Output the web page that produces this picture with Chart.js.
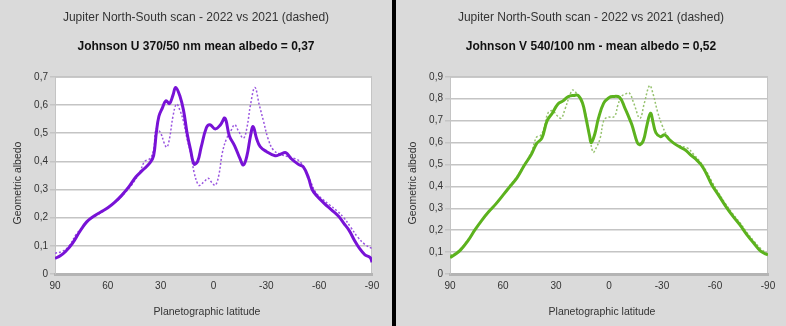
<!DOCTYPE html>
<html lang="en">
<head>
  <meta charset="UTF-8">
  <title>Jupiter North-South scan</title>
  <script src="https://cdn.jsdelivr.net/npm/chart.js"></script>
  <style>
    body {
      margin: 0;
      width: 786px;
      height: 326px;
      background: #dadada;
      position: relative;
      overflow: hidden;
      font-family: "Liberation Sans", Arial, sans-serif;
    }
    #divider {
      position: absolute;
      left: 392px;
      top: 0;
      width: 4px;
      height: 326px;
      background: #000;
    }
    #leftChart { position: absolute; left: 0; top: 0; }
    #rightChart { position: absolute; left: 396px; top: 0; }
  </style>
</head>
<body>
  <canvas id="leftChart" width="392" height="326"></canvas>
  <div id="divider"></div>
  <canvas id="rightChart" width="390" height="326"></canvas>

  <script>
    // tick labels
    const latTicks = [90, 60, 30, 0, -30, -60, -90];

    // Johnson U, 2022 (solid)
    const latU22 = [90, 87, 84, 80, 76, 72, 68, 64, 60, 56, 52, 48, 44, 40, 36, 34, 32.5, 31, 29, 27, 25, 23, 21.5, 19, 17, 15, 13, 11, 9, 7, 4, 2, -1, -4, -6.5, -9, -12, -15, -17, -19, -21, -22.5, -24.5, -26.5, -30, -35, -38, -41, -44, -48, -51, -54, -56, -59, -63, -67, -71, -74, -77, -80, -83, -86, -89, -90];
    const albU22 = [0.055, 0.065, 0.08, 0.11, 0.15, 0.185, 0.205, 0.22, 0.235, 0.255, 0.28, 0.31, 0.345, 0.37, 0.395, 0.42, 0.5, 0.56, 0.59, 0.615, 0.605, 0.635, 0.662, 0.63, 0.58, 0.5, 0.44, 0.39, 0.4, 0.45, 0.52, 0.53, 0.515, 0.53, 0.553, 0.49, 0.455, 0.41, 0.387, 0.42, 0.49, 0.523, 0.48, 0.452, 0.435, 0.42, 0.425, 0.431, 0.41, 0.39, 0.38, 0.34, 0.3, 0.275, 0.25, 0.228, 0.205, 0.18, 0.155, 0.12, 0.09, 0.068, 0.058, 0.042];

    // Johnson U, 2021 (dashed)
    const latU21 = [90, 86, 82, 78, 74, 70, 66, 62, 58, 54, 50, 46, 42, 39, 36, 34, 32.5, 30, 28, 26.5, 25, 23, 21, 19, 17, 15, 13, 11, 9, 8, 5, 3, 1, -1, -3, -5, -7.5, -10, -12, -14, -17, -19, -21, -23.5, -26, -28.5, -31, -34, -38, -42, -46, -49, -52, -55, -58, -62, -66, -70, -74, -78, -82, -86, -90];
    const albU21 = [0.074, 0.08, 0.1, 0.14, 0.17, 0.195, 0.21, 0.225, 0.245, 0.265, 0.29, 0.32, 0.36, 0.4, 0.41, 0.44, 0.515, 0.5, 0.465, 0.45, 0.48, 0.56, 0.603, 0.58, 0.54, 0.48, 0.43, 0.36, 0.32, 0.314, 0.33, 0.34, 0.325, 0.315, 0.35, 0.43, 0.482, 0.51, 0.53, 0.51, 0.482, 0.52, 0.6, 0.662, 0.6, 0.54, 0.48, 0.44, 0.425, 0.417, 0.41, 0.4, 0.37, 0.33, 0.29, 0.265, 0.245, 0.225, 0.2, 0.165, 0.13, 0.105, 0.09];

    // Johnson V, 2022 (solid)
    const latV22 = [90, 87, 84, 80, 76, 72, 68, 64, 60, 56, 52, 48, 44, 41, 38, 35, 32, 29, 26, 23, 20, 17.5, 15, 13, 11, 10, 8, 6, 3, 0, -2, -6, -9, -11, -13, -16, -17.5, -19.5, -21.5, -23.5, -25, -26.5, -29, -31.5, -34, -37, -40, -43, -46, -49, -52, -55, -58, -62, -66, -70, -74, -78, -82, -86, -90];
    const albV22 = [0.075, 0.09, 0.11, 0.15, 0.2, 0.245, 0.285, 0.32, 0.36, 0.4, 0.44, 0.495, 0.545, 0.595, 0.62, 0.7, 0.735, 0.775, 0.79, 0.81, 0.815, 0.815, 0.78, 0.71, 0.63, 0.6, 0.64, 0.71, 0.78, 0.805, 0.81, 0.806, 0.757, 0.72, 0.68, 0.6, 0.59, 0.61, 0.68, 0.734, 0.69, 0.645, 0.627, 0.635, 0.615, 0.595, 0.58, 0.567, 0.545, 0.525, 0.5, 0.46, 0.41, 0.36, 0.31, 0.265, 0.225, 0.18, 0.14, 0.103, 0.087];

    // Johnson V, 2021 (dashed)
    const latV21 = [90, 87, 84, 80, 76, 72, 68, 64, 60, 56, 52, 48, 44, 41, 39, 37, 34.5, 32, 29, 27, 25, 22, 20.5, 18, 15.5, 13, 11, 9, 7, 5, 3, 1, -3, -5, -7, -9, -11.5, -14, -17.5, -20, -23, -25, -27.5, -30, -33, -36, -40, -44.5, -48, -51.5, -55, -58, -62, -66, -70, -74, -78, -82, -86, -90];
    const albV21 = [0.085, 0.095, 0.115, 0.155, 0.2, 0.245, 0.285, 0.32, 0.36, 0.405, 0.445, 0.5, 0.555, 0.625, 0.63, 0.66, 0.735, 0.745, 0.72, 0.711, 0.75, 0.82, 0.84, 0.82, 0.79, 0.72, 0.635, 0.556, 0.58, 0.62, 0.7, 0.715, 0.719, 0.77, 0.81, 0.82, 0.826, 0.78, 0.711, 0.78, 0.86, 0.82, 0.74, 0.68, 0.63, 0.6, 0.585, 0.574, 0.545, 0.513, 0.47, 0.425, 0.37, 0.32, 0.275, 0.235, 0.19, 0.15, 0.115, 0.09];

    const pts = (xs, ys) => xs.map((x, i) => ({ x: x, y: ys[i] }));

    // white plot area with thin grey frame
    const plotBg = {
      id: 'plotBg',
      beforeDraw(chart) {
        const a = chart.chartArea;
        const ctx = chart.ctx;
        ctx.save();
        ctx.fillStyle = '#ffffff';
        ctx.fillRect(a.left, a.top, a.right - a.left, a.bottom - a.top);
        ctx.strokeStyle = '#c4c4c4';
        ctx.lineWidth = 1;
        ctx.strokeRect(a.left + 0.5, a.top + 0.5, a.right - a.left - 1, a.bottom - a.top - 1);
        ctx.restore();
      }
    };

    // axis titles, placed like the original (slightly off the plot centre)
    const axisTitles = {
      id: 'axisTitles',
      afterDraw(chart, args, opts) {
        const ctx = chart.ctx;
        ctx.save();
        ctx.fillStyle = '#333';
        ctx.font = '10.5px "Liberation Sans"';
        ctx.textAlign = 'center';
        ctx.textBaseline = 'middle';
        ctx.fillText('Planetographic latitude', opts.xTitleX, 312);
        ctx.translate(opts.yTitleX, 183);
        ctx.rotate(-Math.PI / 2);
        ctx.fillText('Geometric albedo', 0, 0);
        ctx.restore();
      }
    };

    function makeChart(id, subtitle, yMax, solid, dashed, solidColor, dashColor, leftW, rightW, xTitleX, yTitleX) {
      return new Chart(document.getElementById(id), {
        type: 'line',
        data: {
          datasets: [
            {
              data: solid,
              borderColor: solidColor,
              borderWidth: 3,
              pointRadius: 0,
              tension: 0.4
            },
            {
              data: dashed,
              borderColor: dashColor,
              borderWidth: 1.5,
              borderDash: [2, 2],
              pointRadius: 0,
              tension: 0.4
            }
          ]
        },
        options: {
          responsive: false,
          animation: false,
          layout: { padding: 0 },
          plugins: {
            legend: { display: false },
            tooltip: { enabled: false },
            title: {
              display: true,
              text: 'Jupiter North-South scan - 2022 vs 2021 (dashed)',
              color: '#333',
              font: { family: 'Liberation Sans', size: 12, weight: 'normal' },
              padding: { top: 10, bottom: 15 }
            },
            subtitle: {
              display: true,
              text: subtitle,
              color: '#111',
              font: { family: 'Liberation Sans', size: 12, weight: 'bold' },
              padding: { top: 0, bottom: 23 }
            },
            axisTitles: { xTitleX: xTitleX, yTitleX: yTitleX }
          },
          scales: {
            x: {
              type: 'linear',
              reverse: true,
              min: -90,
              max: 90,
              afterBuildTicks: s => { s.ticks = latTicks.map(v => ({ value: v })); },
              afterFit: s => { s.height = 52; },
              grid: { display: false, drawTicks: false },
              border: { color: '#b4b4b4', width: 3, dash: [1, 1] },
              ticks: {
                color: '#333',
                padding: 6,
                maxRotation: 0,
                font: { family: 'Liberation Sans', size: 10 },
                callback: v => String(v)
              }
            },
            y: {
              min: 0,
              max: yMax,
              afterFit: s => { s.width = leftW; },
              grid: { color: '#c4c4c4', lineWidth: 1.5, tickLength: 5 },
              border: { color: '#c4c4c4' },
              ticks: {
                stepSize: 0.1,
                color: '#333',
                padding: 2,
                font: { family: 'Liberation Sans', size: 10 },
                callback: v => v === 0 ? '0' : v.toFixed(1).replace('.', ',')
              }
            },
            // empty spacer on the right so titles centre on the whole panel
            yr: {
              position: 'right',
              afterFit: s => { s.width = rightW; },
              grid: { display: false, drawTicks: false },
              border: { display: false },
              ticks: { display: false }
            }
          }
        },
        plugins: [plotBg, axisTitles]
      });
    }

    makeChart('leftChart', 'Johnson U 370/50 nm mean albedo = 0,37', 0.7,
      pts(latU22, albU22), pts(latU21, albU21), '#7812d6', '#9a55e0', 55, 20, 207, 18);
    makeChart('rightChart', 'Johnson V 540/100 nm - mean albedo = 0,52', 0.9,
      pts(latV22, albV22), pts(latV21, albV21), '#5cb21e', '#96c26e', 54, 18, 206, 17);
  </script>
</body>
</html>
